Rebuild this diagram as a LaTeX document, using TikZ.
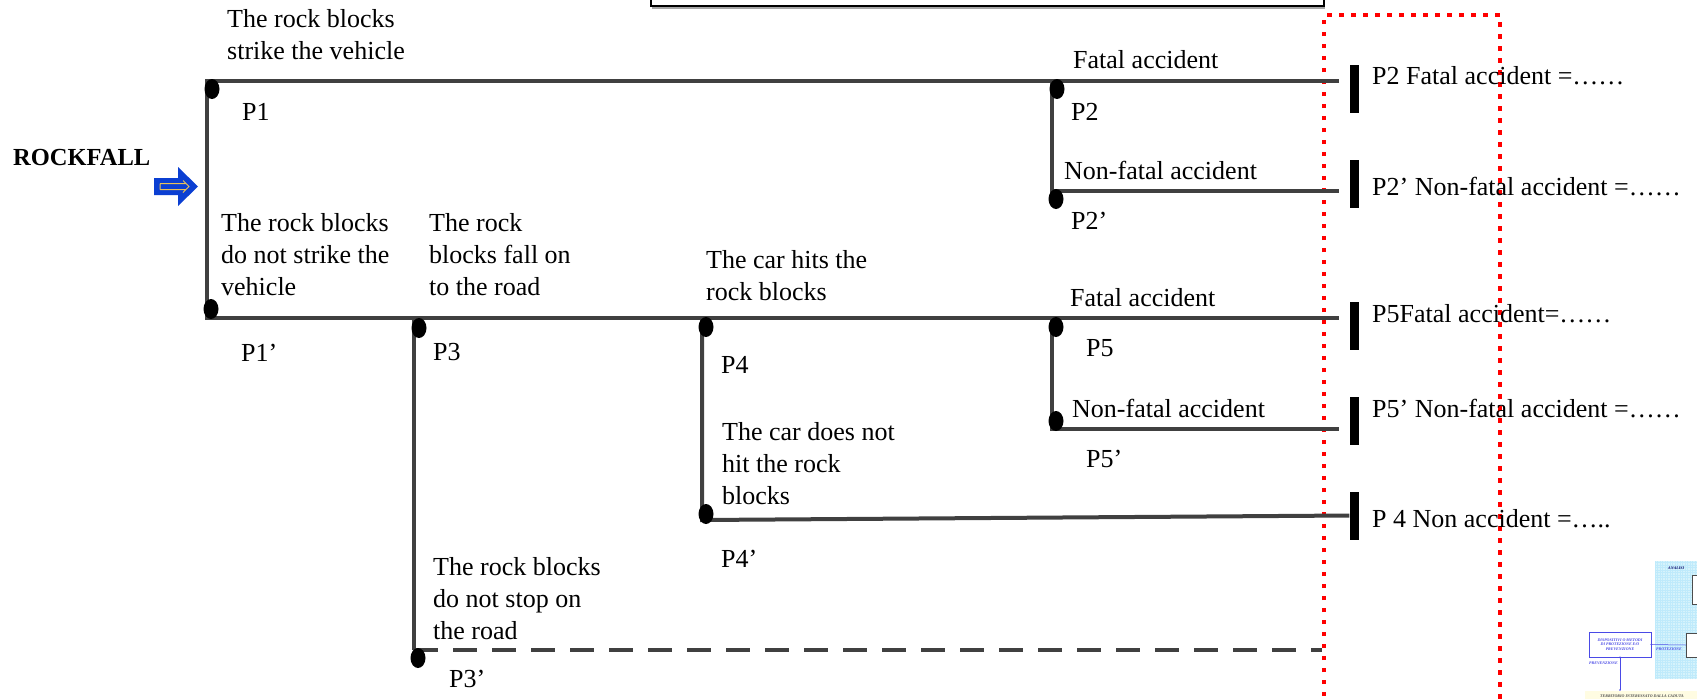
\documentclass[tikz,border=0pt]{standalone}
\usepackage{fontspec}
\setmainfont{Liberation Serif}
\usetikzlibrary{shapes.geometric}
\definecolor{lineGray}{HTML}{404040}
\definecolor{arrowBlue}{HTML}{0B3FD2}
\definecolor{arrowGold}{HTML}{E8C15A}
\definecolor{dotRed}{HTML}{FF0000}
\definecolor{thumbCyan}{HTML}{D6F3FB}
\definecolor{thumbBlue}{HTML}{4A4AE6}
\definecolor{thumbYellow}{HTML}{FFFCE2}

\begin{document}
\begin{tikzpicture}[x=1pt,y=-1pt,
  branch/.style={line width=4pt, draw=lineGray},
  dashbranch/.style={branch, line width=4.5pt, dash pattern=on 24pt off 15pt},
  dotnode/.style={ellipse, fill=black, inner sep=0pt, minimum width=15pt, minimum height=20pt},
  endbar/.style={rectangle, fill=black, inner sep=0pt, minimum width=9pt, minimum height=48pt},
  lbl/.style={anchor=base west, inner sep=0pt, font=\fontsize{26}{32}\selectfont, align=left},
  reddots/.style={draw=dotRed, line width=4.5pt, dash pattern=on 4.5pt off 7.5pt},
  tiny/.style={inner sep=0pt, text=thumbBlue, font=\fontsize{4}{4.6}\selectfont\bfseries\itshape, align=center}
]
\clip (0,0) rectangle (1697,699);
\fill[white] (0,0) rectangle (1697,699);

% frame at the top edge
\draw[line width=2pt, draw=gray!70] (652,7.5) -- (1325,7.5);
\draw[line width=2pt] (651,-20) rectangle (1324,6);

% red dotted frame around the results column
\draw[reddots] (1324,720) -- (1324,15) -- (1500,15) -- (1500,720);

% branch junctions and free ends
\coordinate (s1) at (207,81);
\coordinate (s2) at (207,318);
\coordinate (j2) at (1052,81);
\coordinate (j2b) at (1052,191);
\coordinate (j3) at (414,318);
\coordinate (j3b) at (414,650);
\coordinate (j4) at (702,318);
\coordinate (j4b) at (702,520);
\coordinate (j5) at (1052,318);
\coordinate (j5b) at (1052,429);
\coordinate (e1) at (1339,81);
\coordinate (e2) at (1339,191);
\coordinate (e3) at (1339,318);
\coordinate (e4) at (1339,429);
\coordinate (e6) at (1322,650);

% result bars
\node[endbar] (t1) at (1354,89) {};
\node[endbar] (t2) at (1354,184) {};
\node[endbar] (t3) at (1354,325.5) {};
\node[endbar] (t4) at (1354,420.5) {};
\node[endbar] (t5) at (1354,515.5) {};

% event tree branches
\draw[branch] (e1) -- (s1) -- (s2) -- (e3);
\draw[branch] (j2) -- (j2b) -- (e2);
\draw[branch] (j3) -- (j3b);
\draw[dashbranch] (j3b) -- (e6);
\draw[branch] (j4) -- (j4b) -- (t5.west);
\draw[branch] (j5) -- (j5b) -- (e4);

% junction dots
\node[dotnode] (dP1) at (212,89) {};
\node[dotnode] (dP1b) at (211,309) {};
\node[dotnode] (dP3) at (419,328) {};
\node[dotnode] (dP4) at (706,327) {};
\node[dotnode] (dP2) at (1057,89) {};
\node[dotnode] (dP2b) at (1056,199) {};
\node[dotnode] (dP5) at (1056,327) {};
\node[dotnode] (dP5b) at (1056,421) {};
\node[dotnode] (dP4b) at (706,514) {};
\node[dotnode] (dP3b) at (418,658) {};

% initiating event
\node[anchor=base west, inner sep=0pt, font=\fontsize{24.5}{28}\selectfont\bfseries] (rf) at (13,165) {ROCKFALL};
\fill[arrowBlue] (154,178) -- (178,178) -- (178,167) -- (198,186.5) -- (178,206) -- (178,195) -- (154,195) -- cycle;
\draw[arrowGold, line width=1pt] (160,183.5) -- (186,183.5) (160,189.5) -- (186,189.5) (160,183.5) -- (160,189.5)
  (183,180.5) -- (189,186.5) -- (183,192.5);

% branch labels (placed by the baseline of their last line)
\node[lbl] (a1) at (227,59) {The rock blocks\\strike the vehicle};
\node[lbl] (a2) at (221,295) {The rock blocks\\do not strike the\\vehicle};
\node[lbl] (a3) at (429,295) {The rock\\blocks fall on\\to the road};
\node[lbl] (a4) at (706,300) {The car hits the\\rock blocks};
\node[lbl] (a5) at (722,504) {The car does not\\hit the rock\\blocks};
\node[lbl] (a6) at (433,639) {The rock blocks\\do not stop on\\the road};
\node[lbl] (a7) at (1073,68) {Fatal accident};
\node[lbl] (a8) at (1064,179) {Non-fatal accident};
\node[lbl] (a9) at (1070,306) {Fatal accident};
\node[lbl] (a10) at (1072,417) {Non-fatal accident};

% probability labels
\node[lbl] (p1) at (242,120) {P1};
\node[lbl] (p1b) at (241,361) {P1’};
\node[lbl] (p3) at (433,360) {P3};
\node[lbl] (p4) at (721,373) {P4};
\node[lbl] (p2) at (1071,120) {P2};
\node[lbl] (p2b) at (1071,229) {P2’};
\node[lbl] (p5) at (1086,356) {P5};
\node[lbl] (p5b) at (1086,467) {P5’};
\node[lbl] (p4b) at (721,567) {P4’};
\node[lbl] (p3b) at (449,687) {P3’};

% outcome labels
\node[lbl] (r1) at (1372,84) {P2 Fatal accident =……};
\node[lbl] (r2) at (1372,195) {P2’ Non-fatal accident =……};
\node[lbl] (r3) at (1372,322) {P5Fatal accident=……};
\node[lbl] (r4) at (1372,417) {P5’ Non-fatal accident =……};
\node[lbl] (r5) at (1372,527) {P 4 Non accident =…..};

% small flow chart in the lower right corner
\fill[thumbCyan] (1655,561) rectangle (1700,679);
\draw[cyan!25, line width=0.3pt, step=2.5pt] (1655,561) grid (1700,679);
\node[tiny, text=blue!40!black, anchor=west] (th0) at (1668,568) {ANALISI};
\draw[fill=white, draw=gray!60!black, line width=0.6pt] (1692,575) rectangle (1702,604);
\fill[thumbYellow] (1585,691) rectangle (1700,699);
\node[tiny, text=black!70, anchor=west] (th5) at (1600,696) {TERRITORIO INTERESSATO DALLA CADUTA};
\node[draw=thumbBlue, line width=0.6pt, fill=white, minimum width=62pt, minimum height=25pt, inner sep=0pt] (th1) at (1620,644.5) {};
\node[tiny] (th1t) at (th1) {DISPOSITIVI O METODI\\DI PROTEZIONE E/O\\PREVENZIONE};
\node[draw=gray!60!black, line width=0.6pt, fill=white, minimum width=14pt, minimum height=24pt, inner sep=0pt, anchor=west] (th2) at (1686,645) {};
\draw[thumbBlue, line width=0.5pt] (th1.east) -- (th2.west);
\fill[thumbBlue] (th1.east) circle (1pt);
\node[tiny, anchor=north] (th3) at (1669,648) {PROTEZIONE};
\draw[thumbBlue, line width=0.5pt] (th1.south) -- (1620,690);
\fill[thumbBlue] (th1.south) circle (1pt) (1620,690) circle (0.8pt);
\node[tiny, anchor=north west] (th4) at (1589,662) {PREVENZIONE};
\end{tikzpicture}
\end{document}
